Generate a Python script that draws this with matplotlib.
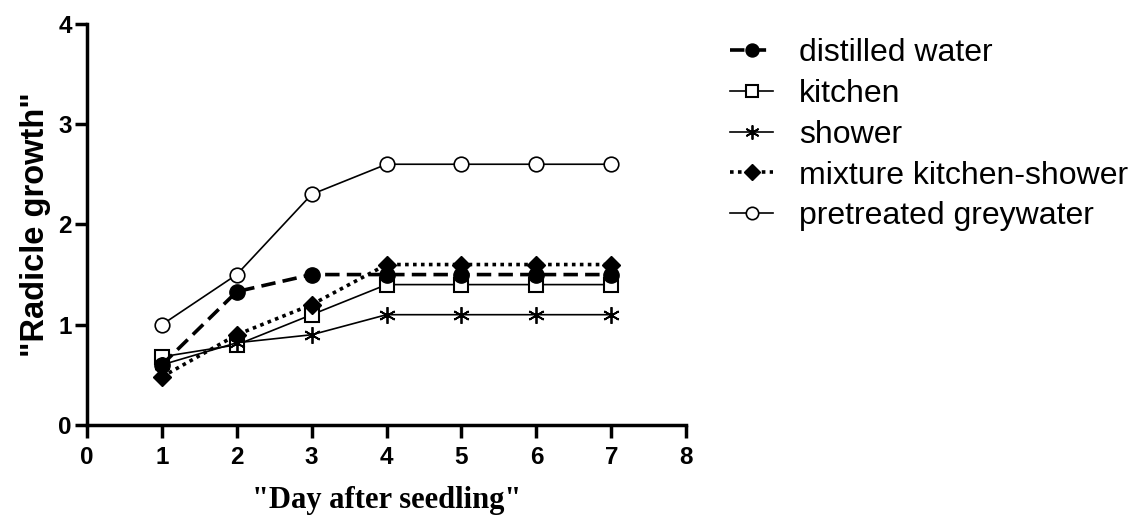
import matplotlib
matplotlib.use('Agg')
import matplotlib.pyplot as plt

days = [1, 2, 3, 4, 5, 6, 7]
distilled_water = [0.6, 1.33, 1.5, 1.5, 1.5, 1.5, 1.5]
kitchen = [0.68, 0.8, 1.1, 1.4, 1.4, 1.4, 1.4]
shower = [0.6, 0.82, 0.9, 1.1, 1.1, 1.1, 1.1]
mixture = [0.48, 0.9, 1.2, 1.6, 1.6, 1.6, 1.6]
pretreated = [1.0, 1.5, 2.3, 2.6, 2.6, 2.6, 2.6]

labels = ['distilled water', 'kitchen', 'shower',
          'mixture kitchen-shower', 'pretreated greywater']

plt.rcParams['font.family'] = ['Liberation Sans', 'DejaVu Sans']

fig = plt.figure(figsize=(11.37, 5.18), dpi=100)
ax = fig.add_axes([0.0765, 0.1795, 0.527, 0.7745])

ax.plot(days, pretreated, color='black', lw=1.2, marker='o', ms=10.5,
        mfc='white', mec='black', mew=1.2, label=labels[4], zorder=2)
ax.plot(days, kitchen, color='black', lw=1.2, marker='s', ms=9.5,
        mfc='white', mec='black', mew=1.5, label=labels[1], zorder=3)
ax.plot(days, shower, color='black', lw=1.2, marker=(6, 2, 0), ms=12,
        mew=1.3, label=labels[2], zorder=3)
ax.plot(days, distilled_water, color='black', lw=2.6, ls=(0, (4, 2)),
        marker='o', ms=11, label=labels[0], zorder=4)
ax.plot(days, mixture, color='black', lw=2.6, ls=(0, (1, 1.2)),
        marker='D', ms=9.5, label=labels[3], zorder=5)

ax.set_xlim(0, 8)
ax.set_ylim(0, 4)
ax.set_xticks(range(0, 9))
ax.set_yticks(range(0, 5))
for s in ['top', 'right']:
    ax.spines[s].set_visible(False)
for s in ['left', 'bottom']:
    ax.spines[s].set_linewidth(2.5)
ax.tick_params(width=2.5, length=9, labelsize=17.5)
ax.tick_params(axis='x', pad=6)
ax.tick_params(axis='y', pad=2)
for t in ax.get_xticklabels() + ax.get_yticklabels():
    t.set_fontweight('bold')

ax.set_xlabel('"Day after seedling"', family='Liberation Serif',
              fontweight='bold', fontsize=22, labelpad=12)
ax.set_ylabel('"Radicle growth"', fontweight='bold', fontsize=23.5, labelpad=5)

handles, labs = ax.get_legend_handles_labels()
order = [labs.index(l) for l in labels]
ax.legend([handles[i] for i in order], [labs[i] for i in order],
          loc='upper left', bbox_to_anchor=(730 / 1137, 1 - 38 / 518),
          bbox_transform=fig.transFigure, frameon=False, borderpad=0,
          borderaxespad=0, fontsize=23, handlelength=1.35, labelspacing=0.34,
          handletextpad=0.8, markerscale=0.85)

fig.savefig('out.png', dpi=100)
